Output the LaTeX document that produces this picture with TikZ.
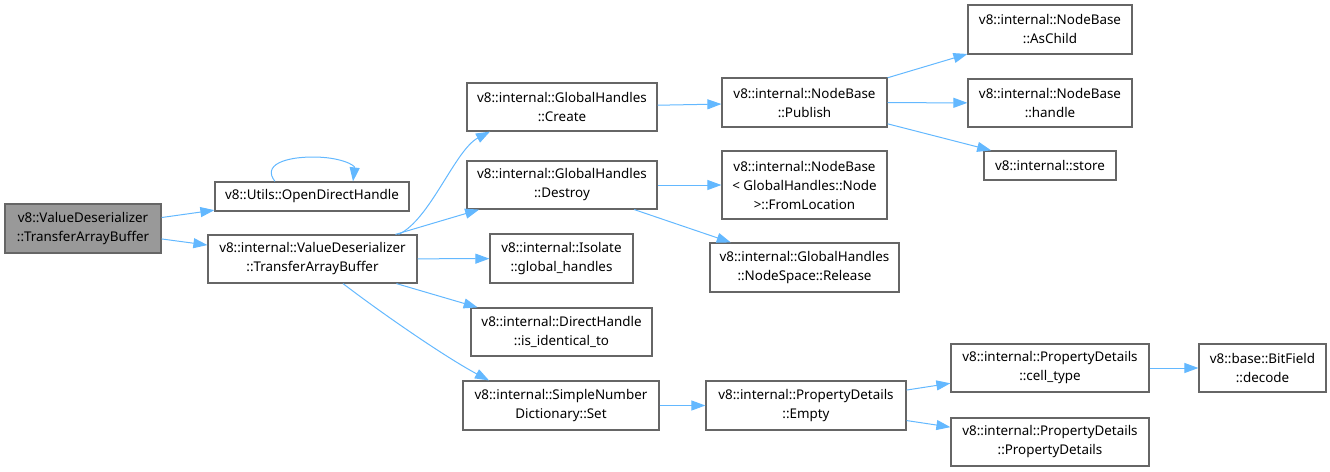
\documentclass[tikz,border=0pt]{standalone}
\usepackage{fontspec}
\setmainfont{Noto Sans}
\usetikzlibrary{arrows.meta}
\definecolor{edgeblue}{HTML}{63B8FF}
\definecolor{boxborder}{HTML}{666666}
\definecolor{mainfill}{HTML}{999999}
\begin{document}
\begin{tikzpicture}[x=1pt,y=-1pt,
  fnbox/.style={draw=boxborder, line width=1.2pt, fill=white, inner sep=0pt, align=center,
    font=\fontsize{13.4}{19}\selectfont, text=black},
  callarrow/.style={draw=edgeblue, line width=1pt, -{Triangle[length=14pt,width=10pt]}}
]
\useasboundingbox (0,0) rectangle (1330,471);
% nodes
\node[fnbox, fill=mainfill, minimum width=156pt, minimum height=49pt] (main) at (83,228.5) {v8::ValueDeserializer\\::TransferArrayBuffer};
\node[fnbox, minimum width=194pt, minimum height=29pt] (odh) at (312,196.5) {v8::Utils::OpenDirectHandle};
\node[fnbox, minimum width=209pt, minimum height=48pt] (vd) at (312.5,259) {v8::internal::ValueDeserializer\\::TransferArrayBuffer};
\node[fnbox, minimum width=190pt, minimum height=48pt] (create) at (562,107) {v8::internal::GlobalHandles\\::Create};
\node[fnbox, minimum width=190pt, minimum height=48pt] (destroy) at (562,185) {v8::internal::GlobalHandles\\::Destroy};
\node[fnbox, minimum width=143pt, minimum height=49pt] (isolate) at (561.5,258.5) {v8::internal::Isolate\\::global\_handles};
\node[fnbox, minimum width=181pt, minimum height=48pt] (ident) at (561.5,332) {v8::internal::DirectHandle\\::is\_identical\_to};
\node[fnbox, minimum width=196pt, minimum height=49pt] (set) at (561,405.5) {v8::internal::SimpleNumber\\Dictionary::Set};
\node[fnbox, minimum width=165pt, minimum height=49pt] (publish) at (804.5,102.5) {v8::internal::NodeBase\\::Publish};
\node[fnbox, minimum width=165pt, minimum height=68pt] (fromloc) at (804.5,185) {v8::internal::NodeBase\\< GlobalHandles::Node\\>::FromLocation};
\node[fnbox, minimum width=189pt, minimum height=49pt] (release) at (804.5,267.5) {v8::internal::GlobalHandles\\::NodeSpace::Release};
\node[fnbox, minimum width=200pt, minimum height=49pt] (empty) at (806,405.5) {v8::internal::PropertyDetails\\::Empty};
\node[fnbox, minimum width=164pt, minimum height=49pt] (aschild) at (1050,29.5) {v8::internal::NodeBase\\::AsChild};
\node[fnbox, minimum width=164pt, minimum height=48pt] (handle) at (1050,103) {v8::internal::NodeBase\\::handle};
\node[fnbox, minimum width=132pt, minimum height=29pt] (store) at (1050,165.5) {v8::internal::store};
\node[fnbox, minimum width=198pt, minimum height=48pt] (celltype) at (1050,368) {v8::internal::PropertyDetails\\::cell\_type};
\node[fnbox, minimum width=198pt, minimum height=48pt] (pdpd) at (1050,442) {v8::internal::PropertyDetails\\::PropertyDetails};
\node[fnbox, minimum width=127pt, minimum height=48pt] (decode) at (1262.5,368) {v8::base::BitField\\::decode};
% edges
\draw[callarrow] (main) -- (odh);
\draw[callarrow] (main) -- (vd);
\draw[callarrow] ([xshift=-37pt]odh.north) .. controls (262,165) and (285,157) .. (313,157) .. controls (340,157) and (355,165) .. ([xshift=41pt]odh.north);
\draw[callarrow] ([xshift=86pt]vd.north) .. controls (430,220) and (455,150) .. ([xshift=-72pt]create.south);
\draw[callarrow] (vd) -- (destroy);
\draw[callarrow] (vd) -- (isolate);
\draw[callarrow] (vd) -- (ident);
\draw[callarrow] ([xshift=30.5pt]vd.south) .. controls (380,312) and (445,357) .. ([xshift=-72pt]set.north);
\draw[callarrow] (create) -- (publish);
\draw[callarrow] (destroy) -- (fromloc);
\draw[callarrow] (destroy) -- (release);
\draw[callarrow] (publish) -- (aschild);
\draw[callarrow] (publish) -- (handle);
\draw[callarrow] (publish) -- (store);
\draw[callarrow] (set) -- (empty);
\draw[callarrow] (empty) -- (celltype);
\draw[callarrow] (empty) -- (pdpd);
\draw[callarrow] (celltype) -- (decode);
\end{tikzpicture}
\end{document}
